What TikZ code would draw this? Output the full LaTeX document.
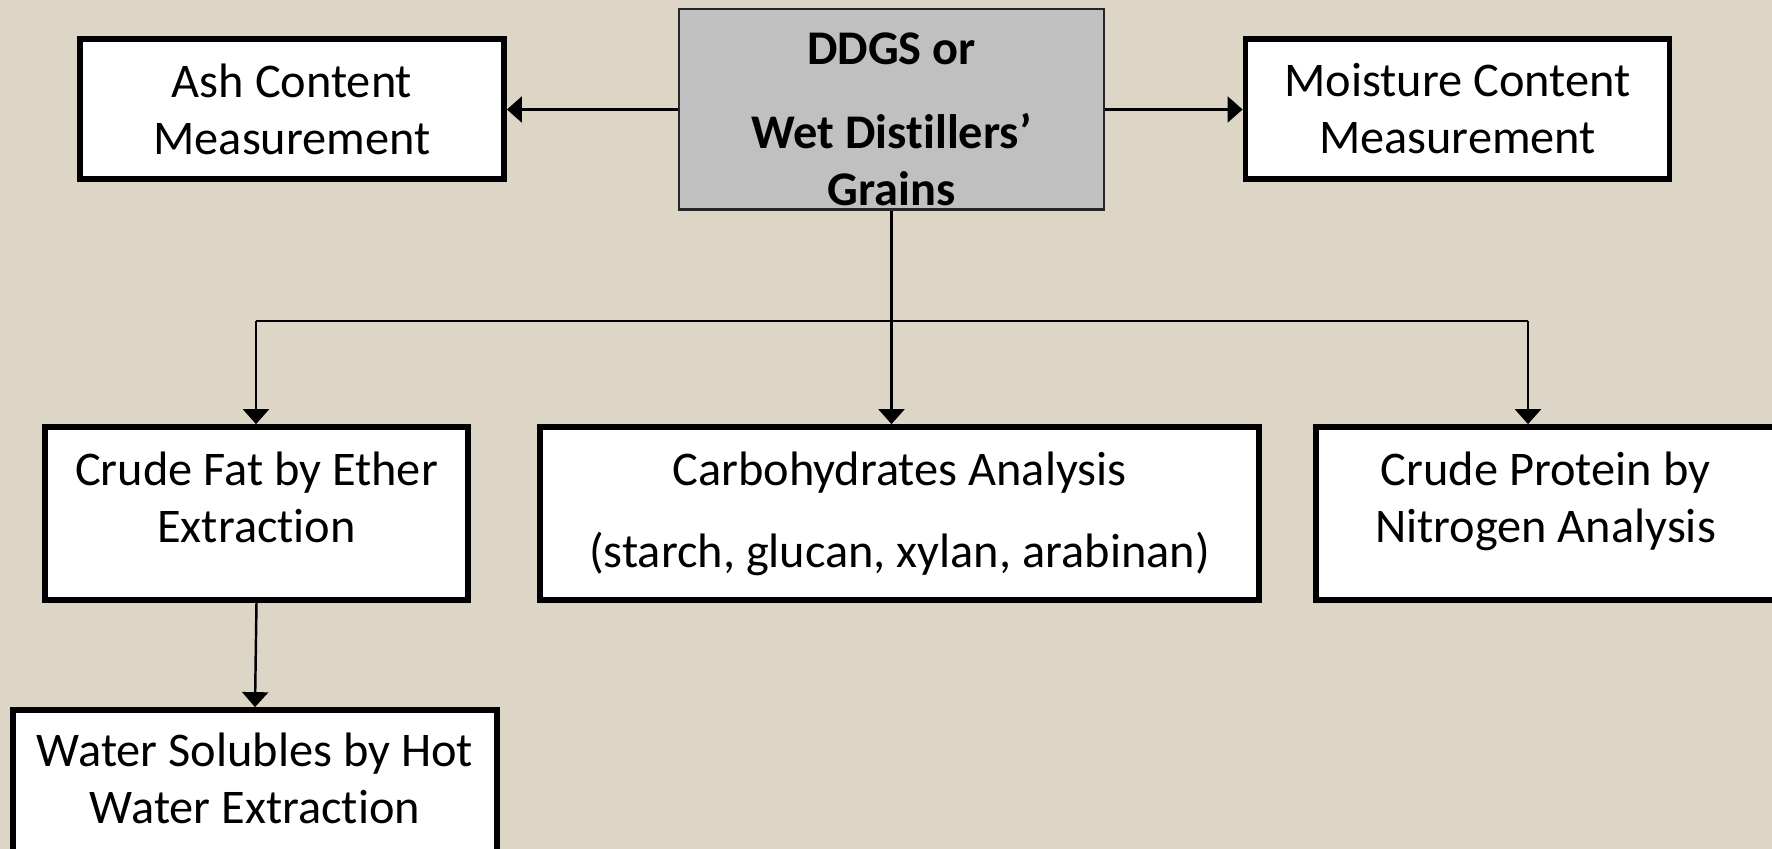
\documentclass[tikz,border=0pt]{standalone}
\usepackage{fontspec}
\setmainfont{Carlito}[Ligatures={TeX,NoCommon}]
\usetikzlibrary{arrows.meta}
\definecolor{bgtan}{RGB}{221,214,198}
\definecolor{boxgray}{RGB}{192,192,192}
\newcommand{\padlow}[1]{\rule[-#1]{0pt}{#1}}
\newcommand{\padhigh}[1]{\rule{0pt}{#1}}
\begin{document}
\begin{tikzpicture}[x=0.01cm,y=-0.01cm,font=\fontsize{13.75}{16.2}\selectfont]
\tikzstyle{every node}+=[inner sep=0pt, align=center]
\tikzstyle{whitebox}=[draw=black, line width=1.6pt, fill=white]
\tikzstyle{link}=[line width=0.7pt, -{Triangle[length=0.15cm,width=0.26cm]}]
\useasboundingbox (0,0) rectangle (1772,849);
\fill [bgtan] (0,0) rectangle (1772,849);
\node [draw=black!85, line width=0.6pt, fill=boxgray, minimum width=4.24cm, minimum height=2.00cm, font=\fontsize{13.75}{16.2}\selectfont\bfseries] (ddgs) at (891.5,109.5) {\padhigh{0.51cm}DDGS or\\[0.27cm]Wet Distillers’\\Grains};
\node [whitebox, minimum width=4.24cm, minimum height=1.40cm] (ash) at (292,109) {Ash Content\\Measurement};
\node [whitebox, minimum width=4.24cm, minimum height=1.40cm] (moist) at (1457.5,109) {Moisture Content\\Measurement};
\node [whitebox, minimum width=4.23cm, minimum height=1.73cm] (fat) at (256.5,513.5) {Crude Fat by Ether\\Extraction\padlow{0.32cm}};
\node [whitebox, minimum width=7.19cm, minimum height=1.73cm] (carb) at (899.5,513.5) {Carbohydrates Analysis\\[0.25cm](starch, glucan, xylan, arabinan)};
\node [whitebox, minimum width=4.59cm, minimum height=1.73cm] (prot) at (1545.5,513.5) {Crude Protein by\\Nitrogen Analysis\padlow{0.32cm}};
\node [whitebox, minimum width=4.84cm, minimum height=1.60cm] (water) at (255,790) {Water Solubles by Hot\\Water Extraction\padlow{0.23cm}};
\coordinate (busL) at (256,321);
\coordinate (busR) at (1528,321);
\draw [link] (ddgs.west) -- (ddgs.west -| ash.east);
\draw [link] (ddgs.east) -- (ddgs.east -| moist.west);
\draw [link] (ddgs.south) -- (ddgs.south |- carb.north);
\draw [line width=0.7pt] (busL) -- (busR);
\draw [link] (busL) -- (busL |- fat.north);
\draw [link] (busR) -- (busR |- prot.north);
\draw [link] (fat.south) -- (water.north);
\end{tikzpicture}
\end{document}
